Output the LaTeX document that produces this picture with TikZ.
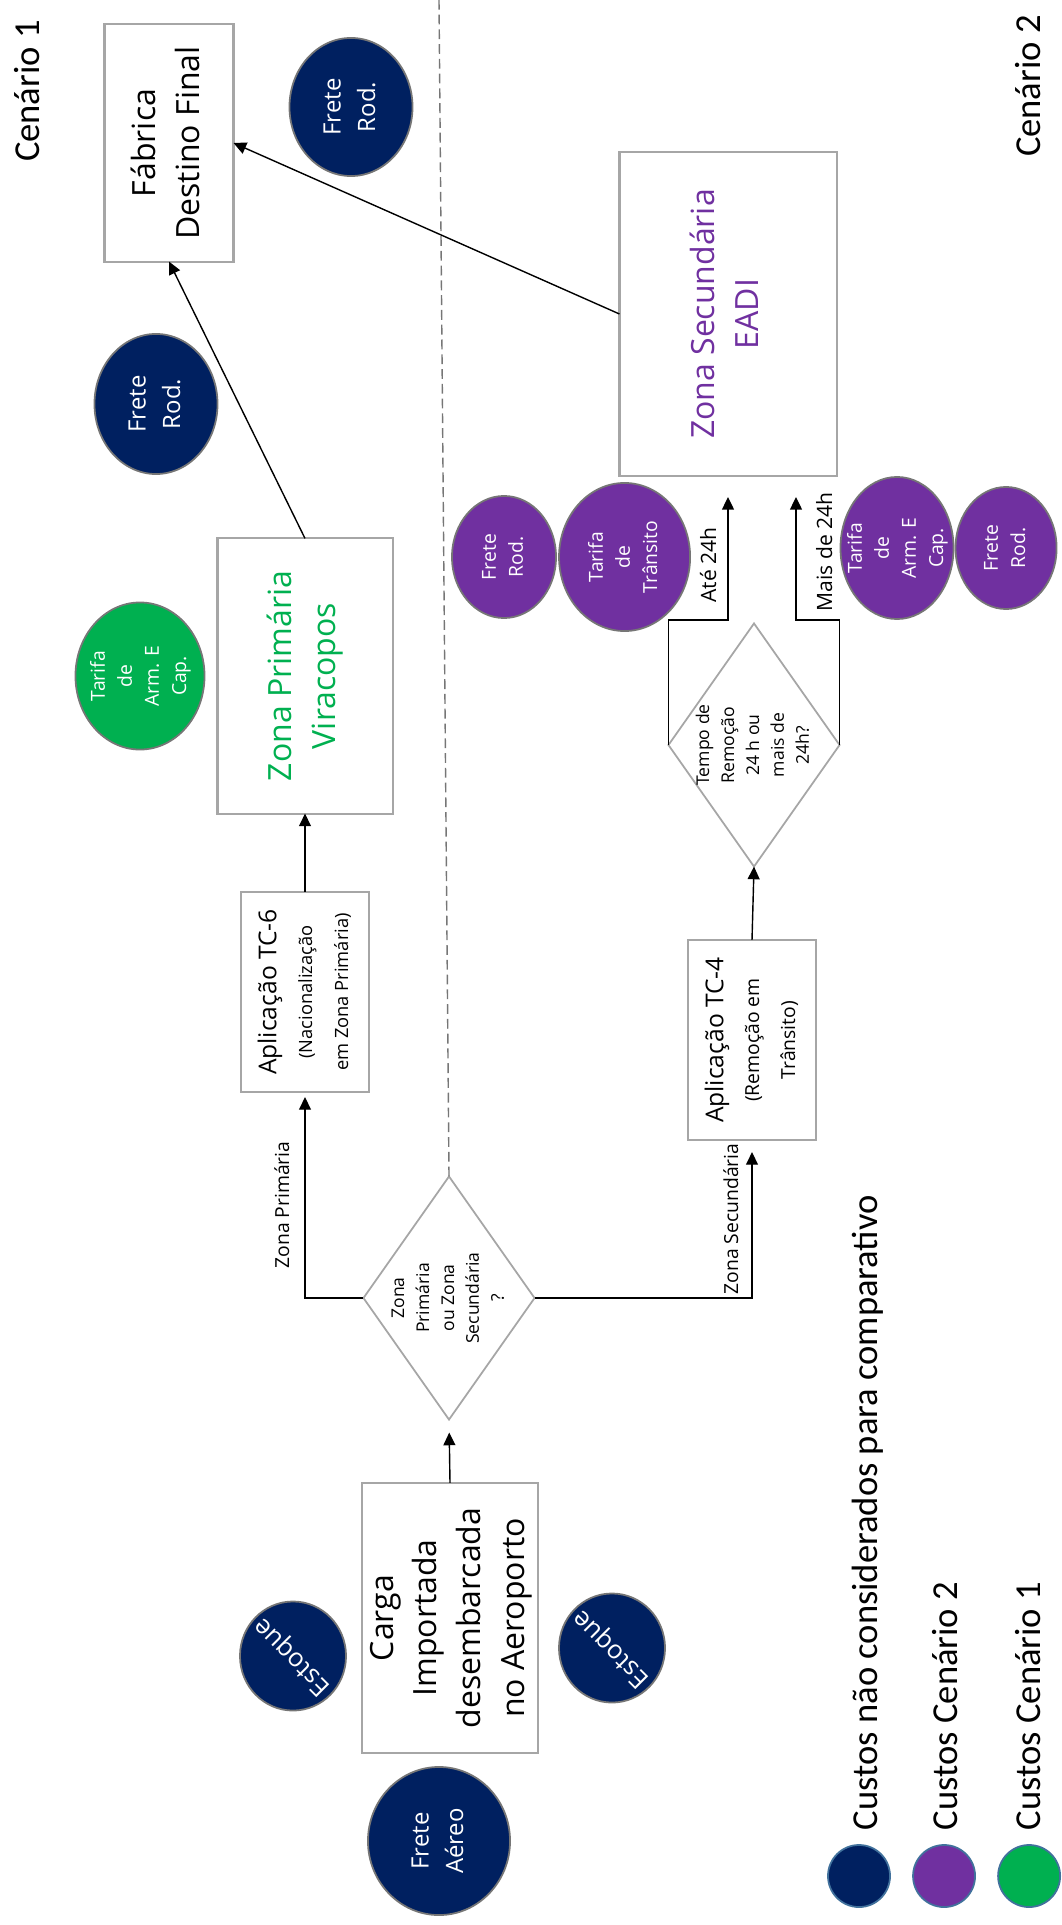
\documentclass[tikz,border=0pt]{standalone}
\usepackage{fontspec}
\setmainfont{Open Sans}
\newfontfamily\calibri{Carlito}
\usepackage{graphicx}
\usetikzlibrary{positioning,shapes.geometric,arrows.meta}

\definecolor{azulesc}{RGB}{0,32,96}
\definecolor{roxo}{RGB}{112,48,160}
\definecolor{verde}{RGB}{0,176,80}
\definecolor{cinza}{RGB}{166,166,166}
\definecolor{cinzaesc}{RGB}{118,118,118}
\definecolor{azulborda}{RGB}{65,113,156}

\newcommand{\tam}[2]{\fontsize{#1}{#2}\selectfont}
\newcommand{\vtxt}[1]{\rotatebox{90}{\begin{tabular}{@{}c@{}}#1\end{tabular}}}
\newcommand{\btxt}[1]{\makebox[0pt]{\vtxt{#1}}}

\begin{document}
\begin{tikzpicture}[
        x=0.01cm, y=-0.01cm,
        every node/.style={inner sep=0pt, outer sep=0pt},
        caixa/.style={draw=cinza, line width=0.6pt, fill=white, font=\tam{9.1}{12.4}},
        caixatc/.style={caixa, font=\tam{7}{10.2}, minimum width=1.28cm, minimum height=2cm},
        losango/.style={diamond, draw=cinza, line width=0.5pt, fill=white, minimum width=1.71cm, minimum height=2.43cm, font=\tam{5}{7.1}},
        bola/.style={ellipse, draw=cinzaesc, line width=0.5pt, text=white},
        bazul/.style={bola, fill=azulesc, font=\tam{6.8}{9.8}},
        broxa/.style={bola, fill=roxo, font=\tam{5.5}{7.7}},
        bverde/.style={bola, fill=verde, font=\tam{5.5}{7.7}},
        rotulo/.style={rotate=90, anchor=base, font=\tam{5.5}{7}},
        cenario/.style={rotate=90, anchor=base west, font=\calibri\tam{10.4}{12}},
        legdot/.style={circle, draw=azulborda, line width=0.5pt, minimum size=0.62cm},
        seta/.style={black, line width=0.4pt, -{Triangle[width=3.4pt,length=3.6pt]}},
    ]
    \useasboundingbox (0,0) rectangle (1061,1925);

    \node[cenario] (cen1) at (39,162) {Cenário 1};
    \node[cenario] (cen2) at (1040,157) {Cenário 2};

    % cenario 1
    \node[caixa, minimum width=1.29cm, minimum height=2.37cm] (fab) at (169,143) {\vtxt{Fábrica\\Destino Final}};
    \node[bazul, minimum width=1.23cm, minimum height=1.38cm] (freteA) at (351,107) {\btxt{Frete\\Rod.}};
    \node[bazul, minimum width=1.23cm, minimum height=1.4cm] (freteB) at (156,404) {\btxt{Frete\\Rod.}};
    \node[caixa, minimum width=1.75cm, minimum height=2.75cm, text=verde] (zp) at (305,676) {\vtxt{Zona Primária\\Viracopos}};
    \node[bverde, minimum width=1.29cm, minimum height=1.47cm] (tarZP) at (140,676) {\btxt{Tarifa\\de\\Arm. E\\Cap.}};
    \node[caixatc] (tc6) at (305,992) {\vtxt{Aplicação TC-6\\\tam{5.2}{6}(Nacionalização\\\tam{5.2}{6}em Zona Primária)}};

    % origem
    \node[caixa, minimum width=1.76cm, minimum height=2.7cm] (carga) at (450,1618) {\vtxt{Carga\\Importada\\desembarcada\\no Aeroporto}};
    \node[losango] (dec1) at (449,1298) {\btxt{Zona\\Primária\\ou Zona\\Secundária\\?}};
    \node[bazul, minimum width=1.06cm, minimum height=1.09cm] (est1) at (293,1656) {};
    \node[text=white, rotate=135, font=\tam{7.3}{9}] (est1txt) at (est1) {Estoque};
    \node[bazul, minimum width=1.06cm, minimum height=1.09cm] (est2) at (612,1648) {};
    \node[text=white, rotate=135, font=\tam{7.3}{9}] (est2txt) at (est2) {Estoque};
    \node[bazul, minimum width=1.42cm, minimum height=1.48cm] (aereo) at (439,1841) {\btxt{Frete\\Aéreo}};

    % cenario 2
    \node[caixatc] (tc4) at (752,1040) {\vtxt{Aplicação TC-4\\\tam{5.5}{6}(Remoção em\\\tam{5.5}{6}Trânsito)}};
    \node[losango] (dec2) at (754,745) {\btxt{Tempo de\\Remoção\\24 h ou\\mais de\\24h?}};
    \node[caixa, minimum width=2.17cm, minimum height=3.24cm, text=roxo] (eadi) at (728,314) {\vtxt{Zona Secundária\\EADI}};
    \node[broxa, minimum width=1.04cm, minimum height=1.22cm] (freteC) at (504,557) {\btxt{Frete\\Rod.}};
    \node[broxa, minimum width=1.31cm, minimum height=1.48cm, right=0.03cm of freteC] (tarTr) {\btxt{Tarifa\\de\\Trânsito}};
    \node[broxa, minimum width=1.13cm, minimum height=1.42cm] (tarArm) at (897,548) {\btxt{Tarifa\\de\\Arm. E\\Cap.}};
    \node[broxa, minimum width=1.01cm, minimum height=1.22cm, right=0.02cm of tarArm] (freteD) {\btxt{Frete\\Rod.}};

    % rotulos
    \node[rotulo] (lblZP) at (289,1205) {Zona Primária};
    \node[rotulo] (lblZS) at (738,1219) {Zona Secundária};
    \node[rotulo, font=\tam{6}{7}] (lblAte) at (716,565) {Até 24h};
    \node[rotulo, font=\tam{6}{7}] (lblMais) at (832,552) {Mais de 24h};

    % legenda
    \node[legdot, fill=azulesc] (legA) at (859,1876) {};
    \node[legdot, fill=roxo, right=0.23cm of legA] (legB) {};
    \node[legdot, fill=verde, right=0.23cm of legB] (legC) {};
    \node[cenario] (txtA) at (877,1830) {Custos não considerados para comparativo};
    \node[cenario] (txtB) at (957,1830) {Custos Cenário 2};
    \node[cenario] (txtC) at (1040,1830) {Custos Cenário 1};

    \coordinate (topo) at (439,0);
    \coordinate (ateDobra) at (728,620);
    \coordinate (ateFim) at (728,497);
    \coordinate (maisDobra) at (796,620);
    \coordinate (maisFim) at (796,497);

    \draw[cinzaesc, line width=0.4pt, dash pattern=on 2.8pt off 1.4pt] (dec1.north) -- (topo);
    \draw[seta, shorten >=0.13cm] (carga.north) -- (dec1.south);
    \draw[seta, shorten >=0.05cm] (dec1.west) -| (tc6.south);
    \draw[seta, shorten >=0.12cm] (dec1.east) -| (tc4.south);
    \draw[seta] (tc6.north) -- (zp.south);
    \draw[seta] (zp.north) -- (fab.south);
    \draw[seta] (eadi.west) -- (fab.east);
    \draw[seta] (tc4.north) -- (dec2.south);
    \draw[seta] (dec2.west) |- (ateDobra) -- (ateFim);
    \draw[seta] (dec2.east) |- (maisDobra) -- (maisFim);
\end{tikzpicture}
\end{document}
